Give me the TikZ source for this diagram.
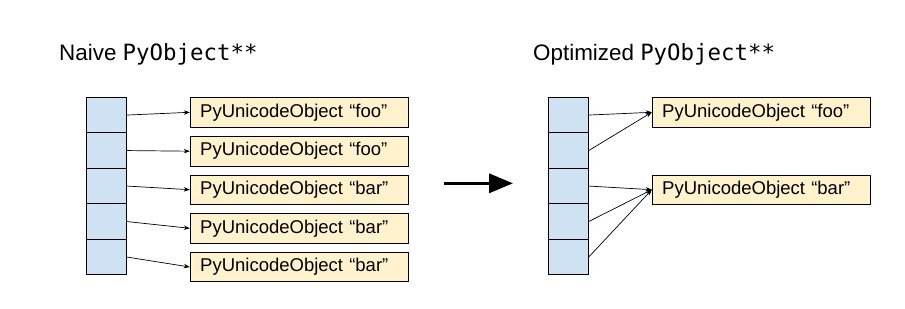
\documentclass[tikz,border=0pt]{standalone}
\usepackage{fontspec}
\setmainfont{Liberation Sans}
\setmonofont{DejaVu Sans Mono}
\usetikzlibrary{arrows.meta}
\definecolor{cellblue}{HTML}{CFE2F3}
\definecolor{boxyellow}{HTML}{FFF2CC}
\begin{document}
\begin{tikzpicture}[x=1pt,y=-1pt,
  cell/.style={draw=black,fill=cellblue,line width=0.8pt,minimum width=40pt,minimum height=35.5pt,inner sep=0pt},
  objbox/.style={draw=black,fill=boxyellow,line width=0.8pt,text width=198pt,align=left,inner xsep=10pt,minimum height=29.5pt,inner ysep=0pt,font=\fontsize{18.5}{20}\selectfont},
  ptr/.style={line width=0.7pt,-{Stealth[length=6pt,width=4.5pt]}},
  title/.style={anchor=base west,inner sep=0pt,font=\fontsize{22.4}{26}\selectfont}]
\path[use as bounding box,fill=white] (0,0) rectangle (905,308);
% titles
\node[title] (t1) at (59,60) {Naive \texttt{PyObject**}};
\node[title] (t2) at (533,60) {Optimized \texttt{PyObject**}};
% cell columns
\foreach \i/\y in {1/115.05,2/150.55,3/186.05,4/221.55,5/257.05}{
  \node[cell] (l\i) at (106.5,\y) {};
  \node[cell] (r\i) at (568.3,\y) {};
}
\node[objbox] (lb1) at (299.2,112.3) {PyUnicodeObject “foo”};
\node[objbox] (lb2) at (299.2,151.2) {PyUnicodeObject “foo”};
\node[objbox] (lb3) at (299.2,189.7) {PyUnicodeObject “bar”};
\node[objbox] (lb4) at (299.2,228.3) {PyUnicodeObject “bar”};
\node[objbox] (lb5) at (299.2,267.0) {PyUnicodeObject “bar”};
\foreach \i in {1,...,5}{\draw[ptr] (l\i.east) -- (lb\i.west);}
% right
\node[objbox] (rb1) at (761.2,112.3) {PyUnicodeObject “foo”};
\node[objbox] (rb2) at (761.2,189.7) {PyUnicodeObject “bar”};
\draw[ptr] (r1.east) -- (rb1.west);
\draw[ptr] (r2.east) -- (rb1.west);
\draw[ptr] (r3.east) -- (rb2.west);
\draw[ptr] (r4.east) -- (rb2.west);
\draw[ptr] (r5.east) -- (rb2.west);
% big arrow
\coordinate (a0) at (444,183.3);
\coordinate (a1) at (513,183.3);
\draw[line width=3.5pt,-{Triangle[length=24pt,width=19pt]}] (a0) -- (a1);
\end{tikzpicture}
\end{document}
